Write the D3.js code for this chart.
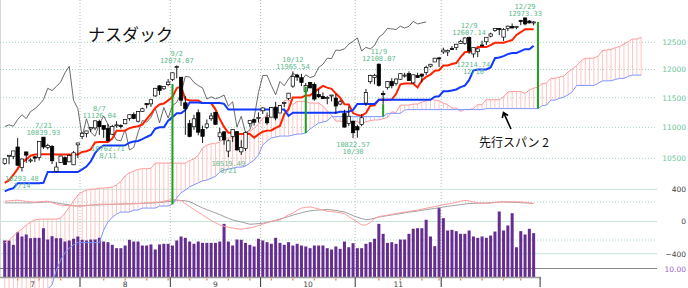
<!DOCTYPE html>
<html>
<head>
<meta charset="utf-8">
<script src="https://cdn.jsdelivr.net/npm/d3@7"></script>
<style>
body { margin: 0; background: #fff; }
svg { display: block; }
</style>
</head>
<body>
<svg id="chart" width="688" height="288"></svg>
<script>
// Nasdaq daily, 2020/7/8 - 2020/12/31, ichimoku + macd + volume

var dates = ["7/8","7/9","7/10","7/13","7/14","7/15","7/16","7/17","7/20","7/21","7/22","7/23","7/24","7/27","7/28","7/29","7/30","7/31",
  "8/3","8/4","8/5","8/6","8/7","8/10","8/11","8/12","8/13","8/14","8/17","8/18","8/19","8/20","8/21","8/24","8/25","8/26","8/27","8/28","8/31",
  "9/1","9/2","9/3","9/4","9/8","9/9","9/10","9/11","9/14","9/15","9/16","9/17","9/18","9/21","9/22","9/23","9/24","9/25","9/28","9/29","9/30",
  "10/1","10/2","10/5","10/6","10/7","10/8","10/9","10/12","10/13","10/14","10/15","10/16","10/19","10/20","10/21","10/22","10/23","10/26","10/27","10/28","10/29","10/30",
  "11/2","11/3","11/4","11/5","11/6","11/9","11/10","11/11","11/12","11/13","11/16","11/17","11/18","11/19","11/20","11/23","11/24","11/25","11/27","11/30",
  "12/1","12/2","12/3","12/4","12/7","12/8","12/9","12/10","12/11","12/14","12/15","12/16","12/17","12/18","12/21","12/22","12/23","12/24","12/28","12/29","12/30","12/31"]

var open = [10419,10538,10532,10680,10356,10601,10469,10523,10514,10839,
  10670,10689,10297,10431,10510,10444,10398,10714,10848,10901,
  10974,10990,11099,11030,10979,10887,11032,11029,11059,11148,
  11217,11102,11268,11400,11395,11532,11708,11656,11729,11822,
  12047,11861,11414,11062,11010,11245,10967,11000,11143,11252,
  10846,10926,10615,10852,10929,10602,10654,11064,11128,11148,
  11277,11161,11170,11339,11240,11417,11487,11703,11898,11852,
  11608,11768,11735,11557,11524,11502,11532,11495,11392,11231,
  11064,11102,11011,11048,11408,11781,11856,12096,11573,11676,
  11787,11753,11825,11898,11926,11761,11891,11917,11944,12060,
  12136,12210,12321,12320,12382,12405,12479,12477,12591,12283,
  12325,12450,12510,12616,12725,12761,12598,12760,12803,12780,
  12914,12966,12907,12878]

var high = [10493,10549,10617,10825,10495,10605,10500,10532,10772,10839.93,
  10732,10711,10440,10536,10530,10563,10616,10746,10920,10941,
  11002,11113,11126.04,11035,11057,11041,11101,11051,11129,11212,
  11250,11273,11330,11401,11467,11672,11719,11697,11829,11945,
  12074.07,11861,11532,11125,11210,11300,11028,11131,11244,11262,
  10993,10936,10801,10970,10936,10789,10932,11118,11142,11251,
  11338,11249,11344,11430,11377,11427,11580,11965.54,11920,11921,
  11758,11778,11769,11654,11593,11532,11548,11565,11469,11294,
  11352,11111,11043,11221,11654,11906,11920,12108.07,11621,11790,
  11843,11838,11936,11939,11967,11908,11940,11924,12069,12102,
  12212,12229,12400,12366,12429,12466,12546,12593,12607.14,12412,
  12382,12530,12595,12681,12766,12771,12770,12818,12859,12808,
  12930,12973.33,12925,12902]

var low = [10398,10408,10487,10377,10293.48,10429,10430,10441,10465,10649,
  10641,10409,10283,10424,10400,10441,10394,10505,10808,10836,
  10922,10954,10875,10827,10762.71,10872,10995,10980,11053,11111,
  11136,11081,11260,11318,11344,11517,11549,11638,11701,11792,
  11841,11361,10876,10837,10958,10869,10744,10970,11108,11042,
  10778,10716,10519.49,10761,10623,10553,10618,11009,11029,11079,
  11223,11044,11169,11116,11240,11342,11461,11674,11796,11703,
  11590,11671,11449,11499,11478,11388,11438,11225,11372,11000,
  11024,10822.57,10830,11019,11359,11744,11735,11693,11392,11642,
  11665,11713,11813,11855,11801,11741,11854,11768,11900,12035,
  12134,12045,12282,12245,12359,12355,12469,12455,12285,12214.74,
  12225,12418,12451,12592,12700,12637,12526,12712,12767,12750,
  12827,12821,12857,12821]

var close = [10492,10548,10617,10391,10489,10550,10474,10503,10767,10680,
  10706,10461,10363,10536,10402,10543,10588,10745,10903,10941,
  10998,11108,11011,10968,10783,11012,11042,11019,11130,11211,
  11146,11265,11312,11380,11466,11665,11625,11696,11775,11940,
  12056,11458,11313,10848,11142,10920,10853,11057,11190,11050,
  10910,10793,10779,10964,10633,10672,10914,11117,11085,11167,
  11326,11075,11332,11155,11365,11421,11580,11876,11864,11768,
  11714,11671,11478,11516,11484,11506,11548,11358,11431,11004,
  11185,10911,10957,11160,11590,11890,11895,11713,11553,11786,
  11709,11829,11924,11899,11801,11904,11854,11880,12036,12094,
  12205,12198,12355,12349,12377,12464,12519,12582,12338,12405,
  12377,12440,12595,12658,12764,12755,12742,12807,12771,12804,
  12899,12850,12870,12888]

// volume, 100 million shares
var volume = [39.5,39.5,34.9,48.2,43.7,45.8,41.9,42.3,42.3,52.4,
  40.5,44.0,41.9,41.9,38.4,39.5,41.3,43.7,40.2,39.5,
  40.5,40.5,42.3,38.4,37.7,34.9,31.4,31.4,34.2,40.2,
  38.4,38.4,34.2,34.2,35.3,30.0,35.3,36.0,36.0,34.2,
  39.5,43.7,42.3,38.4,36.0,38.4,37.0,37.0,37.0,37.0,
  38.4,57.0,38.4,34.2,40.5,40.2,37.0,34.9,33.2,41.3,
  39.5,37.7,36.0,42.3,37.0,34.9,37.7,34.2,36.0,34.2,
  33.2,31.4,34.2,34.2,34.2,31.4,30.0,33.2,30.7,38.4,
  32.4,36.6,31.4,31.4,36.0,37.7,41.3,57.0,46.5,37.0,
  37.7,36.0,40.5,40.5,46.5,51.8,52.4,52.4,61.3,43.7,
  33.5,73.9,63.0,50.0,50.7,49.3,46.5,46.5,50.0,43.7,
  42.3,43.7,42.3,44.7,48.9,70.0,50.0,55.3,68.2,32.4,
  49.3,45.8,51.8,47.2]

// tenkan (conversion) and kijun (base) lines
var tenkan = [10118,10160,10240,10335,10437,10482,10540,10559,10559,10566,
  10566,10566,10561,10561,10561,10561,10561,10561,10601,10612,
  10642,10753,10760,10760,10760,10815,10944,10944,10946,10987,
  11006,11018,11046,11136,11223,11326,11386,11400,11455,11513,
  11667,11696,11475,11455,11455,11455,11409,11409,11409,11302,
  11138,11008,10910,10910,10891,10891,10891,10891,10831,10885,
  10929,10946,10949,10992,11024,11220,11305,11505,11505,11505,
  11541,11541,11603,11654,11708,11677,11655,11573,11502,11389,
  11385,11239,11208,11194,11239,11365,11372,11466,11466,11466,
  11469,11564,11734,11750,11750,11750,11680,11805,11867,11908,
  11977,11985,12071,12071,12099,12117,12223,12314,12326,12326,
  12411,12411,12411,12448,12491,12493,12493,12517,12542,12639,
  12691,12750,12750,12750]

var kijun = [9990,10020,10040,10114,10114,10114,10114,10114,10114,10121,
  10286,10286,10286,10286,10286,10286,10286,10286,10326,10370,
  10450,10581,10660,10705,10705,10705,10705,10705,10706,10748,
  10767,10778,10807,10842,10875,10978,11001,11001,11112,11170,
  11234,11234,11290,11419,11419,11419,11409,11409,11409,11409,
  11409,11395,11297,11297,11297,11297,11297,11297,11297,11297,
  11297,11297,11297,11297,11297,11297,11190,11243,11243,11243,
  11243,11243,11243,11243,11243,11243,11243,11243,11260,11260,
  11260,11292,11395,11395,11395,11395,11395,11466,11466,11466,
  11466,11466,11466,11466,11466,11466,11466,11466,11466,11466,
  11518,11526,11612,11612,11626,11645,11685,11712,11813,11983,
  11999,11999,11999,12037,12204,12218,12242,12280,12300,12300,
  12336,12371,12371,12437]

// leading spans, already shifted 25 bars ahead (149 bars)
var spanA = [9244,9285,9341,9397,9440,9497,9540,9569,9583,9583,
  9583,9583,9583,9598,9670,9758,9847,9936,9981,10010,
  10025,10025,10040,10040,10048,
  10054,10090,10140,10225,10276,10298,10327,10337,10337,10344,
  10426,10426,10424,10424,10424,10424,10424,10424,10464,10491,
  10546,10667,10710,10733,10733,10760,10825,10825,10826,10868,
  10887,10898,10927,10989,11049,11152,11194,11201,11284,11342,
  11451,11465,11383,11437,11437,11437,11409,11409,11409,11356,
  11274,11202,11104,11104,11094,11094,11094,11094,11064,11091,
  11113,11122,11123,11145,11161,11259,11248,11374,11374,11374,
  11392,11392,11423,11449,11476,11460,11449,11408,11381,11325,
  11323,11266,11302,11295,11317,11380,11384,11466,11466,11466,
  11468,11515,11600,11608,11608,11608,11573,11636,11667,11687,
  11748,11756,11842,11842,11863,11881,11954,12013,12070,12155,
  12205,12205,12205,12243,12348,12356,12368,12399,12421,12470,
  12514,12561,12561,12594]

var spanB = [8330,8360,8390,8420,8450,8480,8510,8540,8570,8600,
  8630,8680,8876,9010,9110,9175,9220,9250,9250,9250,
  9250,9250,9250,9426,9540,9610,9655,9685,9685,9685,
  9714,9714,9743,9743,9743,9743,9773,9773,9773,9800,
  9893,9970,10010,10060,10090,10120,10150,10162,10190,10220,
  10285,10316,10330,10345,10361,10361,10377,10425,10472,10552,
  10713,10776,10825,10841,10857,10857,10857,10873,10890,10890,
  10906,10972,11022,11072,11089,11106,11179,11179,11179,11179,
  11179,11179,11179,11179,11179,11179,11179,11179,11179,11234,
  11234,11234,11234,11290,11297,11297,11297,11297,11297,11297,
  11297,11297,11297,11297,11297,11297,11297,11297,11297,11297,
  11297,11297,11314,11314,11314,11314,11314,11314,11314,11314,
  11314,11314,11314,11314,11314,11366,11374,11460,11460,11491,
  11510,11550,11606,11715,11715,11715,11715,11715,11752,11795,
  11797,11797,11821,11841,11841,11877,11898,11898,11898]

var macd = [252,256,261,265,257,250,244,240,245,250,
  252,234,215,203,199,197,194,191,193,198,
  203,209,215,215,215,215,215,217,219,220,
  222,224,226,230,235,239,242,252,263,273,
  270,260,222,185,148,117,82,46,12,-15,
  -43,-58,-71,-82,-90,-94,-87,-80,-68,-50,
  -33,-15,1,9,18,50,85,103,139,167,
  175,182,170,156,142,127,123,117,108,98,
  62,26,-6,-43,-43,-12,37,62,70,79,
  89,98,107,116,124,134,142,153,164,175,
  185,197,208,217,226,239,250,261,256,242,
  231,228,224,230,235,241,244,244,244,244,
  244,239,231,224]

var signal = [231,231,231,231,231,231,231,234,236,240,
  242,240,231,223,214,206,197,192,194,198,
  202,204,207,209,210,213,215,217,218,220,
  222,223,225,228,230,233,236,241,247,254,
  258,260,258,246,222,193,169,148,127,107,
  86,62,39,20,6,-6,-20,-34,-31,-26,
  -22,-11,1,15,31,46,62,79,94,108,
  122,133,138,142,146,150,144,137,127,118,
  98,73,52,37,22,28,42,55,64,73,
  81,90,98,107,117,123,130,139,146,155,
  162,171,180,188,196,203,209,217,224,225,
  228,229,230,234,238,241,244,241,239,236,
  234,231,228,224]

var priceTicks = [10500, 11000, 11500, 12000, 12500]
var macdTicks = [400, 0, -400]
var volGrid = [40, 80]
var volLabel = 10

// [bar, date, value]
var highMarks = [[9, "7/21", "10839.93"], [22, "8/7", "11126.04"], [40, "9/2", "12074.07"],
  [67, "10/12", "11965.54"], [87, "11/9", "12108.07"], [108, "12/9", "12607.14"], [121, "12/29", "12973.33"]]
var lowMarks = [[4, "7/14", "10293.48"], [24, "8/11", "10762.71"], [52, "9/21", "10519.49"],
  [81, "10/30", "10822.57"], [109, "12/10", "12214.74"]]

// green markers: bar and upper price, they end on span B
var greenIdx = [39, 70, 88, 124]
var greenTop = [11740, 11695, 11390, 12888]

var lag = 25
var svg = d3.select("#chart")
var idx = d3.range(dates.length)

var x = d3.scaleLinear().domain([0, spanA.length - 1]).range([4.75, 4.75 + (spanA.length - 1) * 4.3])
var y = d3.scaleLog().domain([10500, 12500]).range([158.3, 42.3])
var yM = d3.scaleLinear().domain([-400, 400]).range([253.7, 189.3])
var yV = d3.scaleLinear().domain([0, 10]).range([278, 268.5])

// month borders
var monthOf = dates.map(function (s) { return +s.split("/")[0] })
var seps = idx.filter(function (i) { return i > 0 && monthOf[i] != monthOf[i - 1] })
  .map(function (i) { return i - 0.5 })
seps.push(dates.length + 0.5)

// grid
svg.append("line").attr("x1", 0.5).attr("x2", 0.5).attr("y1", 0).attr("y2", 278)
  .attr("stroke", "#d8d8d8")

svg.append("g").selectAll("line").data(priceTicks).enter().append("line")
  .attr("x1", 0).attr("x2", 657)
  .attr("y1", function (d) { return y(d) }).attr("y2", function (d) { return y(d) })
  .attr("stroke", "#9fd4c0").attr("stroke-dasharray", "1,2")

svg.append("g").selectAll("line").data(seps.slice(0, -1)).enter().append("line")
  .attr("x1", function (d) { return x(d) }).attr("x2", function (d) { return x(d) })
  .attr("y1", 0).attr("y2", 277)
  .attr("stroke", "#b8b8b8").attr("stroke-dasharray", "1,2")

svg.append("g").selectAll("line").data(macdTicks).enter().append("line")
  .attr("x1", 0).attr("x2", 657)
  .attr("y1", function (d) { return yM(d) }).attr("y2", function (d) { return yM(d) })
  .attr("stroke", "#c4e4d8")

svg.append("g").selectAll("line").data(volGrid).enter().append("line")
  .attr("x1", 0).attr("x2", 657)
  .attr("y1", function (d) { return yV(d) }).attr("y2", function (d) { return yV(d) })
  .attr("stroke", "#9fd4c0").attr("stroke-dasharray", "1,2")

svg.append("line").attr("x1", 0).attr("x2", 657).attr("y1", yV(volLabel)).attr("y2", yV(volLabel))
  .attr("stroke", "#8a8a8a")

// cloud hatch
svg.append("g").selectAll("line").data(d3.range(spanA.length)).enter().append("line")
  .attr("x1", function (i) { return x(i) }).attr("x2", function (i) { return x(i) })
  .attr("y1", function (i) { return y(spanA[i]) }).attr("y2", function (i) { return y(spanB[i]) })
  .attr("stroke", function (i) { return spanA[i] >= spanB[i] ? "#ffc4c4" : "#c4cfff" })
  .attr("stroke-width", 1)

// volume
svg.append("g").selectAll("rect").data(idx).enter().append("rect")
  .attr("x", function (i) { return x(i) - 1.5 })
  .attr("width", 3)
  .attr("y", function (i) { return yV(volume[i]) })
  .attr("height", function (i) { return yV(0) - yV(volume[i]) })
  .attr("fill", "#662d91")

// macd
var lineM = d3.line().x(function (d, i) { return x(i) }).y(function (d) { return yM(d) })
svg.append("path").datum(signal).attr("d", lineM).attr("fill", "none").attr("stroke", "#a0a0a0")
svg.append("path").datum(macd).attr("d", lineM).attr("fill", "none").attr("stroke", "#ff9c9c")

// spans
var lineP = d3.line().x(function (d, i) { return x(i) }).y(function (d) { return y(d) })
svg.append("path").datum(spanA).attr("d", lineP).attr("fill", "none").attr("stroke", "#ff9a9a")
svg.append("path").datum(spanB).attr("d", lineP).attr("fill", "none").attr("stroke", "#7d96ff")

// lagging span = close shifted back
var chikou = d3.line().x(function (d, i) { return x(i) }).y(function (d) { return y(d) })
svg.append("path").datum(close.slice(lag)).attr("d", chikou)
  .attr("fill", "none").attr("stroke", "#444").attr("stroke-width", 0.8)

svg.append("path").datum(tenkan).attr("d", lineP).attr("fill", "none").attr("stroke", "#ff2200").attr("stroke-width", 2)
svg.append("path").datum(kijun).attr("d", lineP).attr("fill", "none").attr("stroke", "#1038ff").attr("stroke-width", 2)

// candles
var candles = svg.append("g").selectAll("g").data(idx).enter().append("g")
candles.append("line")
  .attr("x1", function (i) { return x(i) }).attr("x2", function (i) { return x(i) })
  .attr("y1", function (i) { return y(high[i]) }).attr("y2", function (i) { return y(low[i]) })
  .attr("stroke", "#000").attr("stroke-width", 0.9)
candles.append("rect")
  .attr("x", function (i) { return x(i) - 1.7 })
  .attr("width", 3.4)
  .attr("y", function (i) { return y(Math.max(open[i], close[i])) })
  .attr("height", function (i) { return Math.max(1, Math.abs(y(open[i]) - y(close[i]))) })
  .attr("fill", function (i) { return close[i] >= open[i] ? "#fff" : "#000" })
  .attr("stroke", "#000").attr("stroke-width", 0.7)

// green markers
svg.append("g").selectAll("line").data(greenIdx).enter().append("line")
  .attr("x1", function (d) { return x(d) }).attr("x2", function (d) { return x(d) })
  .attr("y1", function (d, k) { return y(greenTop[k]) })
  .attr("y2", function (d) { return y(spanB[d]) })
  .attr("stroke", "#1aa01a").attr("stroke-width", 2)

// high / low notes
var note = svg.append("g").attr("font-family", "DejaVu Sans Mono, monospace")
  .attr("font-size", 7).attr("fill", "#5cb98b").attr("text-anchor", "middle")
highMarks.forEach(function (m) {
  note.append("text").attr("x", x(m[0])).attr("y", y(high[m[0]]) - 9).text(m[1])
  note.append("text").attr("x", x(m[0])).attr("y", y(high[m[0]]) - 2).text(m[2])
})
lowMarks.forEach(function (m) {
  note.append("text").attr("x", x(m[0])).attr("y", y(low[m[0]]) + 9).text(m[2])
  note.append("text").attr("x", x(m[0])).attr("y", y(low[m[0]]) + 16).text(m[1])
})

// bottom axis
svg.append("line").attr("x1", 0).attr("x2", x(dates.length + 0.5) + 1)
  .attr("y1", 277.5).attr("y2", 277.5).attr("stroke", "#9a9a9a").attr("stroke-width", 1.3)

var dayOf = dates.map(function (s) { var p = s.split("/"); return new Date(2020, +p[0] - 1, +p[1]) })
var weekStarts = idx.filter(function (i) {
  return i > 0 && dayOf[i].getDay() <= dayOf[i - 1].getDay() && monthOf[i] == monthOf[i - 1]
})
svg.append("g").selectAll("line").data(weekStarts).enter().append("line")
  .attr("x1", function (i) { return x(i) }).attr("x2", function (i) { return x(i) })
  .attr("y1", 278.5).attr("y2", 280.5).attr("stroke", "#f08a4a").attr("stroke-width", 1.4)

svg.append("g").selectAll("line").data(seps).enter().append("line")
  .attr("x1", function (d) { return x(d) }).attr("x2", function (d) { return x(d) })
  .attr("y1", 277.5).attr("y2", 287).attr("stroke", "#333")

// month labels: first month is cut, center it as if it had 22 trading days
var bounds = [seps[0] - 22].concat(seps)
var monthNames = d3.range(seps.length).map(function (k) { return monthOf[Math.ceil(bounds[k + 1] - 1)] })
svg.append("g").selectAll("text").data(monthNames).enter().append("text")
  .attr("x", function (d, k) { return x((bounds[k] + bounds[k + 1]) / 2) })
  .attr("y", 286.5)
  .attr("text-anchor", "middle").attr("font-family", "DejaVu Sans, sans-serif")
  .attr("font-size", 7.5).attr("fill", "#444")
  .text(function (d) { return d })

// right labels
var axisP = svg.append("g").attr("transform", "translate(686,0)")
  .call(d3.axisRight(y).tickValues(priceTicks).tickSize(0).tickPadding(0).tickFormat(d3.format("d")))
axisP.select(".domain").remove()
axisP.selectAll("text").attr("text-anchor", "end").attr("fill", "#6cc69a")
  .attr("font-size", 7.5).attr("font-family", "DejaVu Sans, sans-serif")

var axisM = svg.append("g").attr("transform", "translate(686,0)")
  .call(d3.axisRight(yM).tickValues(macdTicks).tickSize(0).tickPadding(0))
axisM.select(".domain").remove()
axisM.selectAll("text").attr("text-anchor", "end").attr("fill", "#444")
  .attr("font-size", 7.5).attr("font-family", "DejaVu Sans, sans-serif")

svg.append("text").attr("x", 686).attr("y", yV(volLabel) + 3)
  .attr("text-anchor", "end").attr("font-size", 7.5).attr("font-family", "DejaVu Sans, sans-serif")
  .attr("fill", "#9a66d0").text(d3.format(".2f")(volLabel))

// title and note
svg.append("text").attr("x", 88).attr("y", 41)
  .attr("font-family", "Noto Sans CJK JP, sans-serif").attr("font-size", 17).attr("fill", "#111")
  .text("ナスダック")

svg.append("text").attr("x", 479).attr("y", 147)
  .attr("font-family", "Noto Sans CJK JP, sans-serif").attr("font-size", 12).attr("fill", "#111")
  .text("先行スパン 2")

svg.append("path").attr("d", "M511,129 L503.5,112.5 M502.3,118 L503.5,112.5 L508,115.5")
  .attr("fill", "none").attr("stroke", "#000").attr("stroke-width", 1.6)
</script>
</body>
</html>
